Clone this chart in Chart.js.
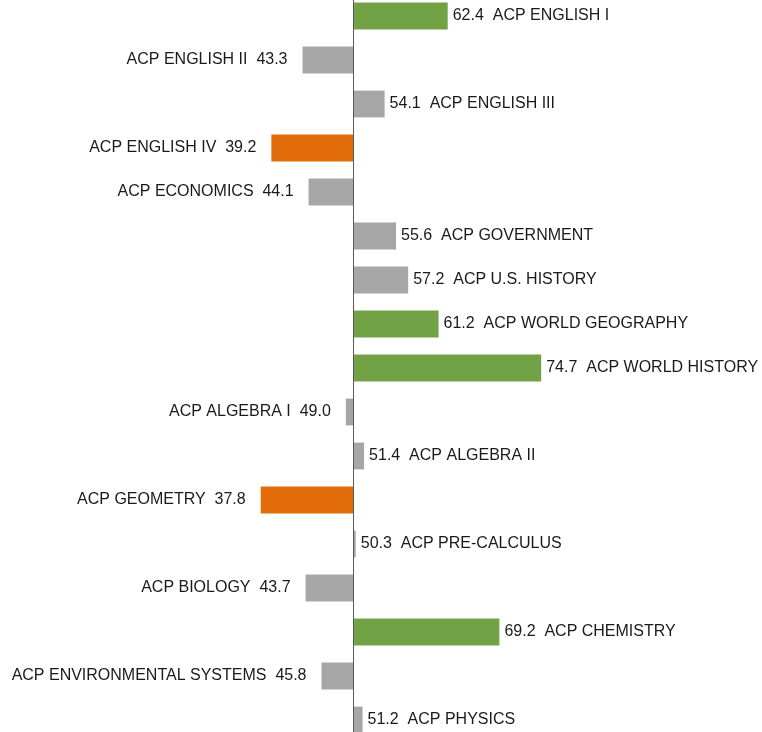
<!DOCTYPE html>
<html>
<head>
<meta charset="utf-8">
<script src="https://cdn.jsdelivr.net/npm/chart.js@4/dist/chart.umd.min.js"></script>
<style>
  html, body { margin: 0; padding: 0; background: #fff; }
  #frame { position: relative; width: 762px; height: 732px; overflow: hidden; }
  #wrap { position: absolute; left: 0; top: -6px; width: 762px; height: 748px; }
</style>
</head>
<body>
<div id="frame"><div id="wrap"><canvas id="chart"></canvas></div></div>
<script>
// course names and scores, top to bottom
const courses = [
  'ACP ENGLISH I', 'ACP ENGLISH II', 'ACP ENGLISH III', 'ACP ENGLISH IV',
  'ACP ECONOMICS', 'ACP GOVERNMENT', 'ACP U.S. HISTORY', 'ACP WORLD GEOGRAPHY',
  'ACP WORLD HISTORY', 'ACP ALGEBRA I', 'ACP ALGEBRA II', 'ACP GEOMETRY',
  'ACP PRE-CALCULUS', 'ACP BIOLOGY', 'ACP CHEMISTRY', 'ACP ENVIRONMENTAL SYSTEMS',
  'ACP PHYSICS'
];
const scores = [62.4, 43.3, 54.1, 39.2, 44.1, 55.6, 57.2, 61.2, 74.7, 49.0, 51.4, 37.8, 50.3, 43.7, 69.2, 45.8, 51.2];
const baseline = 50;

const GREEN = '#71A346';
const ORANGE = '#E36C0A';
const GRAY = '#A6A6A6';

function barColor(v) {
  if (v >= 60) return GREEN;
  if (v < 40) return ORANGE;
  return GRAY;
}

// baseline rule + text next to each bar
const labelPlugin = {
  id: 'barLabels',
  afterDatasetsDraw(chart) {
    const ctx = chart.ctx;
    const xs = chart.scales.x;
    const ys = chart.scales.y;
    const x0 = Math.round(xs.getPixelForValue(baseline)) + 0.5;

    ctx.save();
    ctx.strokeStyle = '#595959';
    ctx.lineWidth = 1;
    ctx.beginPath();
    ctx.moveTo(x0, 0);
    ctx.lineTo(x0, chart.height);
    ctx.stroke();

    ctx.font = '16px "Liberation Sans", Arial, sans-serif';
    ctx.fillStyle = '#1a1a1a';
    ctx.textBaseline = 'middle';
    scores.forEach((v, i) => {
      const y = ys.getPixelForValue(i);
      const xe = xs.getPixelForValue(v);
      const num = v.toFixed(1);
      if (v >= baseline) {
        ctx.textAlign = 'left';
        ctx.fillText(num + '  ' + courses[i], xe + 5, y);
      } else {
        ctx.textAlign = 'right';
        ctx.fillText(courses[i] + '  ' + num, xe - 15, y);
      }
    });
    ctx.restore();
  }
};

new Chart(document.getElementById('chart'), {
  type: 'bar',
  data: {
    labels: courses,
    datasets: [{
      data: scores.map(v => [baseline, v]),
      backgroundColor: scores.map(barColor),
      borderWidth: 0,
      barPercentage: 0.61,
      categoryPercentage: 1.0
    }]
  },
  options: {
    indexAxis: 'y',
    responsive: true,
    maintainAspectRatio: false,
    animation: false,
    layout: { padding: 0 },
    plugins: {
      legend: { display: false },
      tooltip: { enabled: false }
    },
    scales: {
      x: { display: false, min: 3.5, max: 103.75 },
      y: { display: false }
    }
  },
  plugins: [labelPlugin]
});
</script>
</body>
</html>
